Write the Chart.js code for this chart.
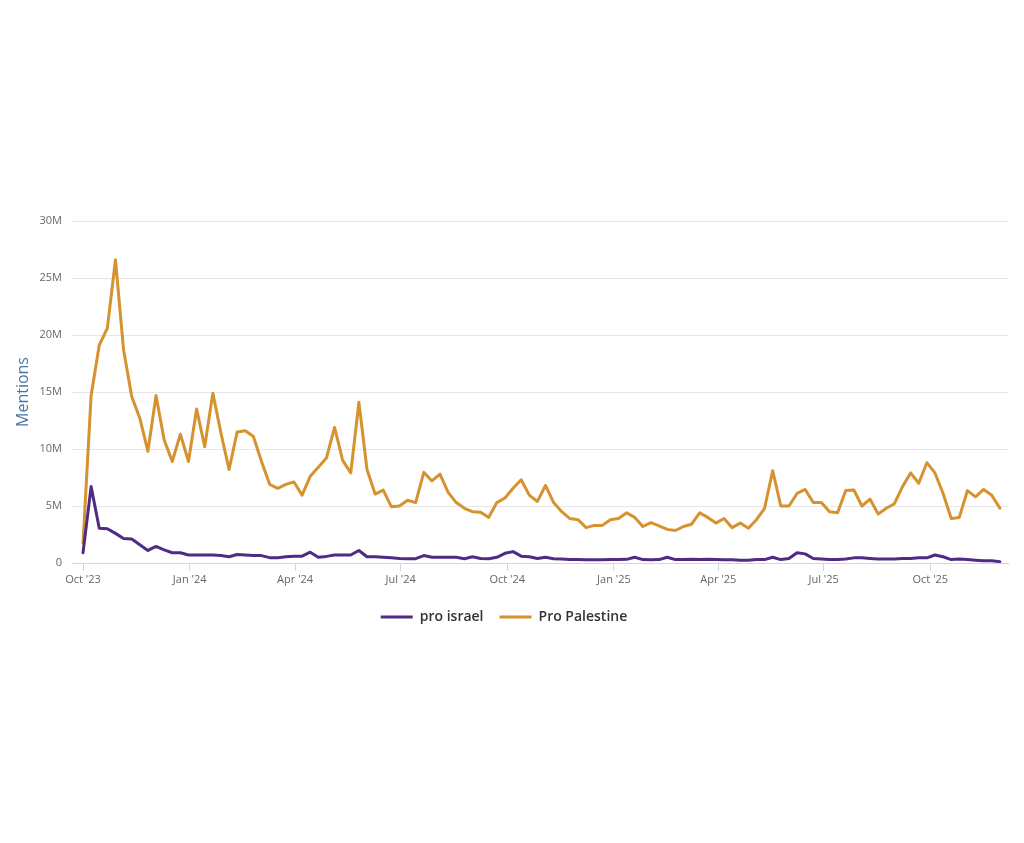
<!DOCTYPE html>
<html>
<head>
<meta charset="utf-8">
<script src="https://cdn.jsdelivr.net/npm/chart.js@4"></script>
<style>
  html, body { margin: 0; padding: 0; background: #fff; }
  #wrap { position: absolute; left: 0; top: 0; width: 1024px; height: 843px; }
</style>
</head>
<body>
<div id="wrap"><canvas id="mentions-chart" width="1024" height="843"></canvas></div>
<script>
// weekly series, first week starts 1 Oct 2023
const firstWeek = '2023-10-01';

const proIsrael = [
  0.9, 6.7, 3.05, 3.0, 2.6, 2.15, 2.1, 1.6, 1.1, 1.45,
  1.15, 0.9, 0.9, 0.7, 0.7, 0.7, 0.7, 0.65, 0.55, 0.75,
  0.7, 0.65, 0.65, 0.47, 0.47, 0.55, 0.6, 0.6, 0.95, 0.5,
  0.58, 0.7, 0.7, 0.7, 1.1, 0.55, 0.55, 0.5, 0.45, 0.4,
  0.38, 0.38, 0.65, 0.5, 0.5, 0.5, 0.5, 0.38, 0.55, 0.4,
  0.38, 0.5, 0.85, 1.0, 0.6, 0.55, 0.4, 0.5, 0.38, 0.35,
  0.3, 0.3, 0.28, 0.28, 0.28, 0.3, 0.3, 0.32, 0.5, 0.3,
  0.28, 0.3, 0.5, 0.3, 0.3, 0.32, 0.3, 0.32, 0.3, 0.28,
  0.28, 0.25, 0.25, 0.3, 0.3, 0.5, 0.3, 0.4, 0.9, 0.8,
  0.4, 0.35, 0.3, 0.3, 0.35, 0.45, 0.45, 0.4, 0.35, 0.35,
  0.35, 0.4, 0.4, 0.45, 0.45, 0.7, 0.55, 0.3, 0.35, 0.3,
  0.25, 0.2, 0.2, 0.12
];

const proPalestine = [
  1.75, 14.7, 19.1, 20.6, 26.6, 18.7, 14.6, 12.7, 9.8, 14.7,
  10.8, 8.9, 11.3, 8.9, 13.5, 10.2, 14.9, 11.4, 8.2, 11.5,
  11.6, 11.1, 8.9, 6.9, 6.55, 6.9, 7.1, 5.95, 7.6, 8.4,
  9.2, 11.9, 9.0, 7.9, 14.1, 8.2, 6.05, 6.4, 4.94, 5.0,
  5.5, 5.3, 7.95, 7.2, 7.8, 6.2, 5.3, 4.8, 4.5, 4.45,
  4.0, 5.3, 5.7, 6.55, 7.3, 5.95, 5.4, 6.8, 5.3, 4.5,
  3.9, 3.8, 3.1, 3.3, 3.3, 3.8, 3.9, 4.4, 4.0, 3.2,
  3.55, 3.25, 2.95, 2.85, 3.2, 3.4, 4.4, 4.0, 3.5, 3.9,
  3.1, 3.5, 3.05, 3.8, 4.8, 8.1, 5.0, 5.0, 6.1, 6.45,
  5.3, 5.3, 4.5, 4.4, 6.35, 6.4, 5.0, 5.6, 4.3, 4.8,
  5.2, 6.7, 7.9, 7.0, 8.8, 7.9, 6.1, 3.9, 4.0, 6.35,
  5.8, 6.45, 5.95, 4.8
];

const tickDates = ['2023-10-01', '2024-01-01', '2024-04-01', '2024-07-01', '2024-10-01',
                   '2025-01-01', '2025-04-01', '2025-07-01', '2025-10-01'];
const tickLabels = ["Oct '23", "Jan '24", "Apr '24", "Jul '24", "Oct '24",
                    "Jan '25", "Apr '25", "Jul '25", "Oct '25"];

const DAY = 86400000;
const t0 = Date.parse(firstWeek);
const dayOf = d => Math.round((Date.parse(d) - t0) / DAY);
const tickDays = tickDates.map(dayOf);

const toPoints = arr => arr.map((v, i) => ({ x: i * 7, y: v * 1e6 }));

const ctx = document.getElementById('mentions-chart').getContext('2d');
new Chart(ctx, {
    type: 'line',
    data: {
        datasets: [{
            label: 'pro israel',
            data: toPoints(proIsrael),
            borderColor: '#4e2c84',
            backgroundColor: '#4e2c84',
            borderWidth: 3,
            borderJoinStyle: 'round',
            borderCapStyle: 'round',
            pointRadius: 0,
            pointStyle: 'line',
            tension: 0
        }, {
            label: 'Pro Palestine',
            data: toPoints(proPalestine),
            borderColor: '#d6922f',
            backgroundColor: '#d6922f',
            borderWidth: 3,
            borderJoinStyle: 'round',
            borderCapStyle: 'round',
            pointRadius: 0,
            pointStyle: 'line',
            tension: 0
        }]
    },
    options: {
        responsive: false,
        animation: false,
        layout: { padding: { left: 0, right: 16, top: 221, bottom: 209 } },
        plugins: {
            tooltip: { enabled: false },
            legend: {
                position: 'bottom',
                labels: {
                    usePointStyle: true,
                    pointStyleWidth: 32,
                    boxHeight: 14,
                    padding: 16,
                    color: '#333',
                    font: { family: 'Open Sans', size: 14, weight: '600' }
                }
            }
        },
        scales: {
            x: {
                type: 'linear',
                min: -9.5,
                max: 798,
                afterBuildTicks: axis => { axis.ticks = tickDays.map(v => ({ value: v })); },
                afterFit: axis => { axis.height = 31; },
                ticks: {
                    autoSkip: false,
                    maxRotation: 0,
                    color: '#666',
                    padding: 2,
                    font: { family: 'Open Sans', size: 11 },
                    callback: (v) => tickLabels[tickDays.indexOf(v)]
                },
                grid: { drawOnChartArea: false, drawTicks: true, tickLength: 8, color: '#ccd6eb' },
                border: { display: true, color: '#ccd6eb' }
            },
            y: {
                min: 0,
                max: 30e6,
                afterFit: axis => { axis.width = 72; },
                ticks: {
                    stepSize: 5e6,
                    color: '#666',
                    padding: 10,
                    font: { family: 'Open Sans', size: 11 },
                    callback: v => v === 0 ? '0' : (v / 1e6) + 'M'
                },
                grid: { color: '#e6e6e6', drawTicks: false },
                border: { display: false },
                title: {
                    display: true,
                    text: 'Mentions',
                    color: '#4a75a8',
                    padding: { top: 14, bottom: 0 },
                    font: { family: 'Open Sans', size: 16 }
                }
            }
        }
    }
});
</script>
</body>
</html>
